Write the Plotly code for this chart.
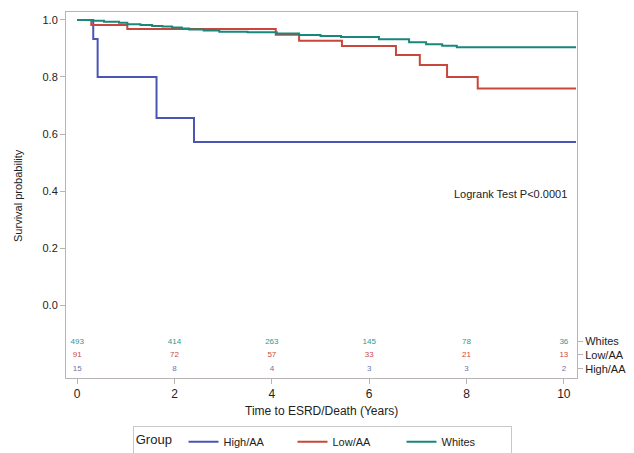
import plotly.graph_objects as go

# ---- data ----
groups = ["High/AA", "Low/AA", "Whites"]

high_t = [0, 0.33, 0.42, 1.63, 2.4, 10.25]
high_s = [1.0, 0.933, 0.80, 0.656, 0.572, 0.572]

low_t = [0, 0.29, 1.03, 4.08, 4.56, 5.44, 6.55, 7.04, 7.6, 8.23, 10.25]
low_s = [1.0, 0.982, 0.968, 0.948, 0.927, 0.909, 0.877, 0.842, 0.80, 0.76, 0.76]

wht_t = [0, 0.3, 0.55, 0.86, 1.03, 1.3, 1.54, 1.75, 1.95, 2.15, 2.3, 2.6, 2.92,
         3.5, 4.1, 4.56, 5.0, 5.42, 6.2, 6.82, 7.17, 7.5, 7.8, 10.25]
wht_s = [1.0, 0.997, 0.994, 0.99, 0.985, 0.982, 0.979, 0.977, 0.974, 0.97, 0.967,
         0.963, 0.959, 0.957, 0.953, 0.947, 0.944, 0.94, 0.932, 0.922, 0.915,
         0.91, 0.904, 0.904]

risk_times = [0, 2, 4, 6, 8, 10]
risk_whites = [493, 414, 263, 145, 78, 36]
risk_low = [91, 72, 57, 33, 21, 13]
risk_high = [15, 8, 4, 3, 3, 2]

x_ticks = [0, 2, 4, 6, 8, 10]
y_ticks = [0.0, 0.2, 0.4, 0.6, 0.8, 1.0]
risk_rows_y = [-0.128, -0.175, -0.224]   # Whites, Low/AA, High/AA rows
risk_labels = ["Whites", "Low/AA", "High/AA"]

# ---- styles ----
c_high = "#4a55b5"
c_low = "#c9473a"
c_wht = "#18877c"
c_high_t = "#6a76aa"
c_low_t = "#d0493b"
c_wht_t = "#2a9a93"
frame = "#b9b3b3"
font_fam = "Liberation Sans, Arial, sans-serif"

fig = go.Figure()
for name, t, s, c in [("High/AA", high_t, high_s, c_high),
                      ("Low/AA", low_t, low_s, c_low),
                      ("Whites", wht_t, wht_s, c_wht)]:
    fig.add_trace(go.Scatter(x=t, y=s, mode="lines", name=name,
                             line=dict(color=c, width=2, shape="hv")))

for vals, yv, c in [(risk_whites, risk_rows_y[0], c_wht_t),
                    (risk_low, risk_rows_y[1], c_low_t),
                    (risk_high, risk_rows_y[2], c_high_t)]:
    fig.add_trace(go.Scatter(x=risk_times, y=[yv] * len(risk_times), mode="text",
                             text=[str(v) for v in vals], showlegend=False,
                             textfont=dict(color=c, size=8, family=font_fam),
                             hoverinfo="skip"))

# dummy trace for right axis
fig.add_trace(go.Scatter(x=[None], y=[None], yaxis="y2", showlegend=False))

yr = [-0.256, 1.028]
fig.update_layout(
    width=626, height=445,
    margin=dict(l=58, r=57, t=4, b=75, autoexpand=False),
    paper_bgcolor="white", plot_bgcolor="white",
    font=dict(family=font_fam, color="#222", size=11),
    xaxis=dict(range=[-0.23, 10.27], tickvals=x_ticks, ticks="outside",
               ticklen=5, tickcolor=frame, showline=True, linecolor=frame,
               mirror=True, showgrid=False, zeroline=False, automargin=False,
               tickfont=dict(size=12, color="#222")),
    yaxis=dict(range=yr, tickvals=y_ticks, tickformat=".1f", ticks="outside",
               ticklen=5, tickcolor=frame, showline=True, linecolor=frame,
               mirror=True, showgrid=False, zeroline=False, automargin=False,
               tickfont=dict(size=11, color="#222")),
    yaxis2=dict(range=yr, overlaying="y", side="right", tickvals=risk_rows_y,
                ticktext=risk_labels, ticks="outside", ticklen=5,
                tickcolor=frame, showline=False, showgrid=False,
                zeroline=False, automargin=False,
                tickfont=dict(size=11, color="#222")),
    legend=dict(orientation="h", x=0.502, xanchor="center", xref="container",
                y=0.06, yanchor="top", yref="container",
                title=dict(text="Group ", side="left"),
                entrywidth=64, entrywidthmode="pixels",
                bordercolor="#c8c8c8", borderwidth=1, tracegroupgap=0,
                font=dict(size=11, color="#222")),
    showlegend=True,
)

fig.add_annotation(x=0.5, y=-0.09, xref="paper", yref="paper",
                   xanchor="center", yanchor="middle", showarrow=False,
                   text="Time to ESRD/Death (Years)",
                   font=dict(size=12, color="#222"))
fig.add_annotation(x=-0.094, y=0.5, xref="paper", yref="paper",
                   xanchor="center", yanchor="middle", showarrow=False,
                   textangle=-90, text="Survival probability",
                   font=dict(size=11, color="#222"))
fig.add_annotation(x=0.985, y=0.39, xref="paper", yref="y", xanchor="right",
                   yanchor="middle", showarrow=False,
                   text="Logrank Test P<0.0001",
                   font=dict(size=11, color="#222"))

fig.write_html("out.html")
